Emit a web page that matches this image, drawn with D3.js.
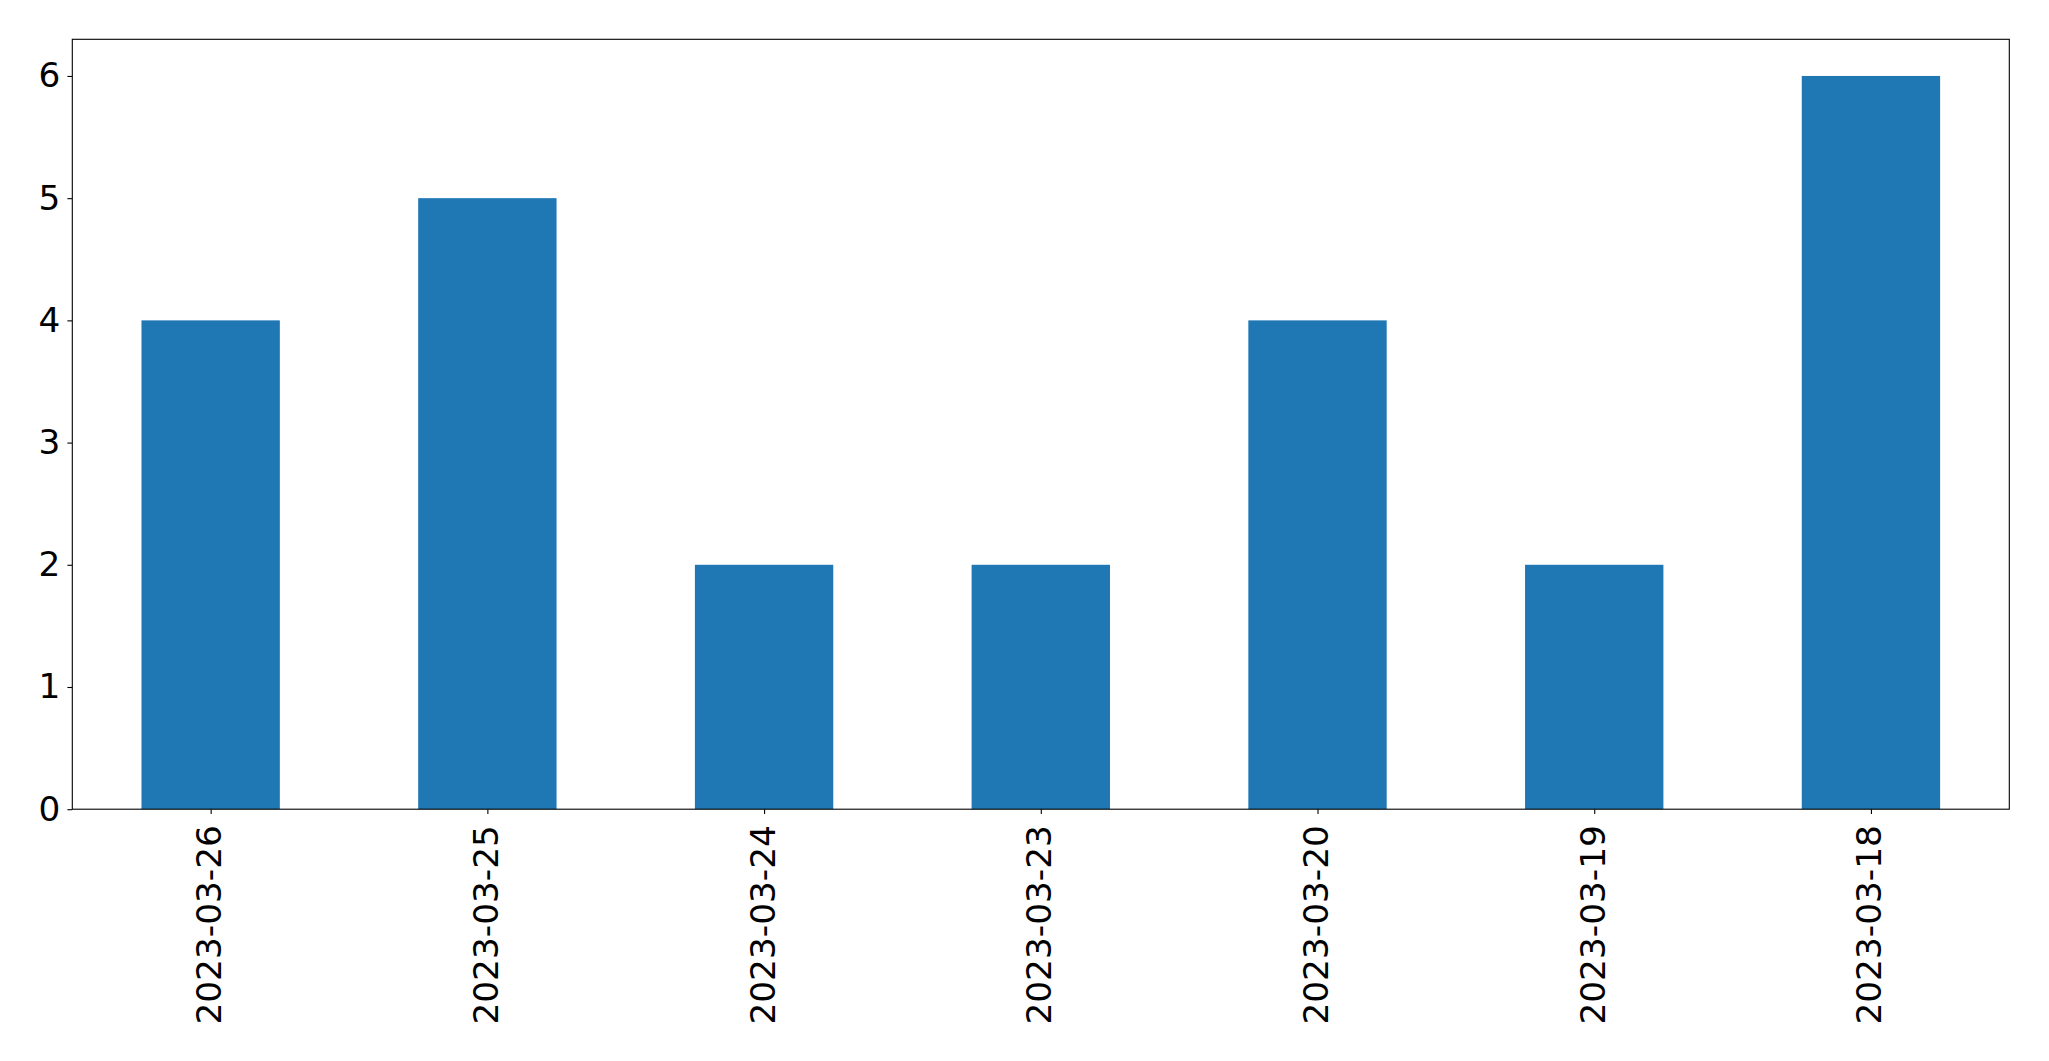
<!DOCTYPE html>
<html><head><meta charset="utf-8">
<script src="https://cdn.jsdelivr.net/npm/d3@7"></script>
<style>body{margin:0;background:#fff;} svg{display:block;}</style>
</head><body>
<script>
const categories = ["2023-03-26","2023-03-25","2023-03-24","2023-03-23","2023-03-20","2023-03-19","2023-03-18"];
const values = [4,5,2,2,4,2,6];
const yTicks = [0,1,2,3,4,5,6];

const W = 2049, H = 1061;
const L = 72.3, R = 2009.3, T = 39.3, B = 809.2;
const svg = d3.select("body").append("svg").attr("width", W).attr("height", H);

const x = d3.scaleLinear().domain([-0.5, categories.length - 0.5]).range([L, R]);
const y = d3.scaleLinear().domain([0, 6.3]).range([B, T]);
const font = "DejaVu Sans, sans-serif";
const fs = 34.3;

svg.append("g").selectAll("rect").data(values).join("rect")
  .attr("x", (d,i) => x(i - 0.25)).attr("width", (d,i) => x(i + 0.25) - x(i - 0.25))
  .attr("y", d => y(d)).attr("height", d => y(0) - y(d))
  .attr("fill", "#1f77b4");

// y axis
const ya = svg.append("g").attr("transform", `translate(${L},0)`)
  .call(d3.axisLeft(y).tickValues(yTicks).tickFormat(d3.format("d")).tickSize(4.9).tickPadding(7));
ya.select(".domain").remove();
ya.selectAll("line").attr("stroke", "#000").attr("stroke-width", 1.1);
ya.selectAll("text").attr("font-family", font).attr("font-size", fs).attr("fill", "#000");

// x axis
const xa = svg.append("g").attr("transform", `translate(0,${B})`)
  .call(d3.axisBottom(x).tickValues(d3.range(categories.length)).tickFormat(i => categories[i]).tickSize(4.9).tickPadding(0));
xa.select(".domain").remove();
xa.selectAll("line").attr("stroke", "#000").attr("stroke-width", 1.1);
xa.selectAll("text").attr("font-family", font).attr("font-size", fs).attr("fill", "#000")
  .attr("transform", "translate(-2,16) rotate(-90)")
  .attr("x", 0).attr("y", 0).attr("dy", "0.35em")
  .attr("text-anchor", "end");

// frame
svg.append("rect").attr("x", L).attr("y", T).attr("width", R - L).attr("height", B - T)
  .attr("fill", "none").attr("stroke", "#000").attr("stroke-width", 1.1);
</script>
</body></html>
